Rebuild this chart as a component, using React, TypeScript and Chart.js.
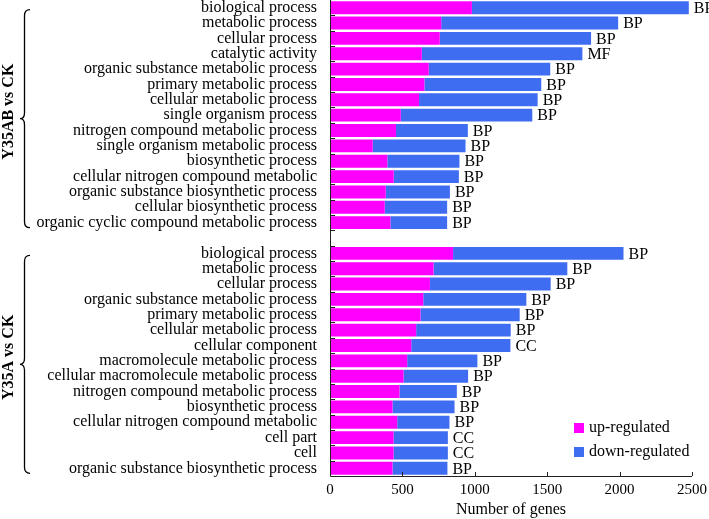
import React, { useEffect, useRef } from "react";
import { Chart, registerables } from "chart.js";

Chart.register(...registerables);

const groupNames = ["Y35AB vs CK", "Y35A vs CK"];

const terms1 = [
  "biological process",
  "metabolic process",
  "cellular process",
  "catalytic activity",
  "organic substance metabolic process",
  "primary metabolic process",
  "cellular metabolic process",
  "single organism process",
  "nitrogen compound metabolic process",
  "single organism metabolic process",
  "biosynthetic process",
  "cellular nitrogen compound metabolic",
  "organic substance biosynthetic process",
  "cellular biosynthetic process",
  "organic cyclic compound metabolic process",
];
const up1 = [980, 768, 758, 634, 682, 652, 615, 489, 456, 295, 396, 440, 385, 378, 417];
const down1 = [1498, 1222, 1045, 1109, 839, 807, 819, 908, 496, 641, 498, 450, 443, 431, 392];
const class1 = ["BP", "BP", "BP", "MF", "BP", "BP", "BP", "BP", "BP", "BP", "BP", "BP", "BP", "BP", "BP"];

const terms2 = [
  "biological process",
  "metabolic process",
  "cellular process",
  "organic substance metabolic process",
  "primary metabolic process",
  "cellular metabolic process",
  "cellular component",
  "macromolecule metabolic process",
  "cellular macromolecule metabolic process",
  "nitrogen compound metabolic process",
  "biosynthetic process",
  "cellular nitrogen compound metabolic",
  "cell part",
  "cell",
  "organic substance biosynthetic process",
];
const up2 = [850, 715, 690, 644, 625, 595, 561, 533, 508, 480, 432, 464, 439, 439, 432];
const down2 = [1177, 924, 834, 712, 685, 653, 685, 485, 446, 396, 428, 361, 375, 375, 379];
const class2 = ["BP", "BP", "BP", "BP", "BP", "BP", "CC", "BP", "BP", "BP", "BP", "BP", "CC", "CC", "BP"];

const seriesNames = ["up-regulated", "down-regulated"];
const xTicks = [0, 500, 1000, 1500, 2000, 2500];

const COLOR_UP = "#FF00FF";
const COLOR_DOWN = "#3F6DF2";
const FONT = "'Liberation Serif', 'Times New Roman', serif";

export default function App() {
  const ref = useRef<HTMLCanvasElement | null>(null);

  useEffect(() => {
    document.body.style.margin = "0";
    const canvas = ref.current;
    if (!canvas) return;

    const labels = [...terms1, "", ...terms2];
    const upData = [...up1, null, ...up2];
    const downData = [...down1, null, ...down2];
    const classes = [...class1, "", ...class2];
    const groups = [
      { name: groupNames[0], first: 0, last: terms1.length - 1 },
      { name: groupNames[1], first: terms1.length + 1, last: terms1.length + terms2.length },
    ];

    const decor = {
      id: "decor",
      afterDatasetsDraw(chart: any) {
        const { ctx, chartArea } = chart;
        const ys = chart.scales.y;
        const xs = chart.scales.x;
        ctx.save();
        // axis lines
        ctx.strokeStyle = "#222";
        ctx.lineWidth = 1;
        ctx.beginPath();
        ctx.moveTo(chartArea.left + 0.5, chartArea.top);
        ctx.lineTo(chartArea.left + 0.5, chartArea.bottom + 0.5);
        ctx.lineTo(chartArea.right, chartArea.bottom + 0.5);
        ctx.stroke();
        // inward y ticks at category boundaries
        const step = labels.length > 1 ? ys.getPixelForValue(1) - ys.getPixelForValue(0) : 0;
        ctx.beginPath();
        for (let i = 1; i < labels.length; i++) {
          const y = Math.round(ys.getPixelForValue(i) - step / 2) + 0.5;
          ctx.moveTo(chartArea.left, y);
          ctx.lineTo(chartArea.left + 5, y);
        }
        // inward x ticks
        for (const v of xTicks) {
          if (v === 0) continue;
          const x = Math.round(xs.getPixelForValue(v)) + 0.5;
          ctx.moveTo(x, chartArea.bottom);
          ctx.lineTo(x, chartArea.bottom - 4);
        }
        ctx.stroke();

        // class annotations
        ctx.fillStyle = "#000";
        ctx.font = `16px ${FONT}`;
        ctx.textAlign = "left";
        ctx.textBaseline = "middle";
        const meta = chart.getDatasetMeta(1);
        meta.data.forEach((el: any, i: number) => {
          if (!classes[i]) return;
          ctx.fillText(classes[i], el.x + 5, el.y + 1);
        });

        // group braces + labels
        for (const g of groups) {
          const yTop = ys.getPixelForValue(g.first) + 2;
          const yBot = ys.getPixelForValue(g.last) + 5;
          const yMid = (yTop + yBot) / 2;
          const xt = 20;
          const xs2 = 24.5;
          const xe = 30;
          const r = 6;
          ctx.strokeStyle = "#000";
          ctx.lineWidth = 1.3;
          ctx.beginPath();
          ctx.moveTo(xe, yTop);
          ctx.quadraticCurveTo(xs2, yTop, xs2, yTop + r);
          ctx.lineTo(xs2, yMid - r);
          ctx.quadraticCurveTo(xs2, yMid, xt, yMid);
          ctx.quadraticCurveTo(xs2, yMid, xs2, yMid + r);
          ctx.lineTo(xs2, yBot - r);
          ctx.quadraticCurveTo(xs2, yBot, xe, yBot);
          ctx.stroke();

          ctx.save();
          ctx.translate(9, yMid - 7);
          ctx.rotate(-Math.PI / 2);
          ctx.font = `bold 16px ${FONT}`;
          ctx.textAlign = "center";
          ctx.textBaseline = "middle";
          ctx.fillText(g.name, 0, 0);
          ctx.restore();
        }

        // legend
        const colors = [COLOR_UP, COLOR_DOWN];
        const lx = chartArea.right - 118;
        const ly0 = chartArea.bottom - 48;
        ctx.font = `16px ${FONT}`;
        ctx.textAlign = "left";
        ctx.textBaseline = "middle";
        seriesNames.forEach((name, i) => {
          const cy = ly0 + i * 24;
          ctx.fillStyle = colors[i];
          ctx.fillRect(lx, cy - 5, 10, 10);
          ctx.fillStyle = "#000";
          ctx.fillText(name, lx + 15, cy);
        });
        ctx.restore();
      },
    };

    const chart = new Chart(canvas, {
      type: "bar",
      data: {
        labels,
        datasets: [
          { label: seriesNames[0], data: upData as any, backgroundColor: COLOR_UP, borderWidth: 0 },
          { label: seriesNames[1], data: downData as any, backgroundColor: COLOR_DOWN, borderWidth: 0 },
        ],
      },
      options: {
        indexAxis: "y",
        responsive: false,
        maintainAspectRatio: false,
        animation: false,
        events: [],
        layout: { padding: { left: 0, right: 17, top: 0, bottom: 0 } },
        datasets: { bar: { barPercentage: 0.84, categoryPercentage: 1 } },
        plugins: { legend: { display: false }, tooltip: { enabled: false } },
        scales: {
          x: {
            stacked: true,
            min: 0,
            max: 2500,
            afterBuildTicks(scale: any) {
              scale.ticks = xTicks.map((v) => ({ value: v }));
            },
            afterFit(scale: any) {
              scale.height = 43;
              scale.paddingLeft = 0;
              scale.paddingRight = 0;
            },
            grid: { display: false, drawTicks: false },
            border: { display: false },
            ticks: {
              color: "#000",
              font: { family: FONT, size: 15 },
              padding: 5,
              maxRotation: 0,
              autoSkip: false,
              callback: (v: any) => String(v),
            },
            title: {
              display: true,
              text: "Number of genes",
              color: "#000",
              font: { family: FONT, size: 16 },
              padding: { top: 0, bottom: 0 },
            },
          },
          y: {
            stacked: true,
            afterFit(scale: any) {
              scale.width = 330;
              scale.paddingTop = 0;
              scale.paddingBottom = 0;
            },
            grid: { display: false, drawTicks: false },
            border: { display: false },
            ticks: {
              color: "#000",
              font: { family: FONT, size: 16 },
              padding: 13,
              autoSkip: false,
            },
          },
        },
      },
      plugins: [decor],
    });

    return () => chart.destroy();
  }, []);

  return (
    <div style={{ width: 709, height: 519 }}>
      <canvas ref={ref} width={709} height={519} style={{ display: "block" }} />
    </div>
  );
}
